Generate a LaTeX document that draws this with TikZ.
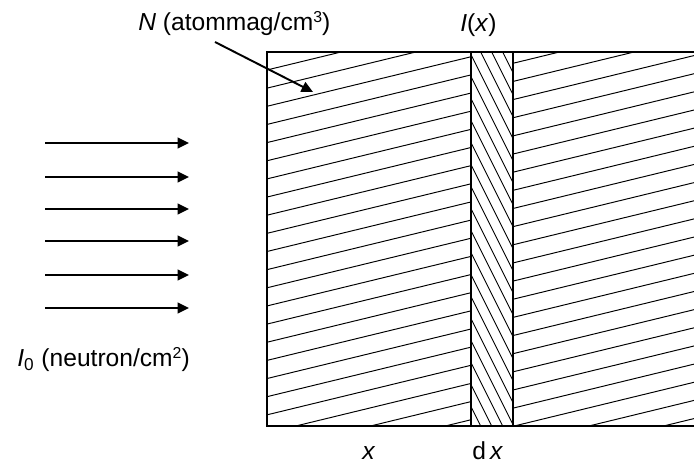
\documentclass[tikz,border=0pt]{standalone}
\usepackage{fontspec}
\setmainfont{Liberation Sans}
\usepackage{tikz}
\usetikzlibrary{arrows.meta, positioning, calc}
\tikzstyle{arrow} = [line width=1.5pt, -{Triangle[length=6.5pt,width=6pt]}]
\newcommand{\upidx}[1]{\raisebox{0.33em}{\fontsize{9}{9}\selectfont #1}}

\begin{document}
\begin{tikzpicture}[
  x=0.02cm, y=-0.02cm,
  txt/.style={inner sep=0pt, font=\fontsize{14}{17}\selectfont},
  border/.style={line width=1.3pt},
  hatch/.style={line width=0.55pt},
  pointer/.style={line width=1.1pt, -{Triangle[length=6.5pt,width=6pt]}}
]
\useasboundingbox (0,0) rectangle (694,465);

% Hatching of the target, left part
\begin{scope}
  \clip (267,52) rectangle (471,426);
  \foreach \k in {-1,...,23}
    \draw[hatch] (267,70+18.15*\k) -- ++(210,-51);
\end{scope}

% Thin slice dx
\begin{scope}
  \clip (471,52) rectangle (513,426);
  \foreach \k in {-4,...,18}
    \draw[hatch] (471,32.6+22*\k) -- ++(42,84);
\end{scope}

% Right part
\begin{scope}
  \clip (513,52) rectangle (694,426);
  \foreach \k in {-1,...,23}
    \draw[hatch] (513,63.3+18.15*\k) -- ++(190,-46.2);
\end{scope}

% Outline
\draw[border] (694,52) -- (267,52) -- (267,426) -- (694,426);
\draw[border] (471,52) -- (471,426);
\draw[border] (513,52) -- (513,426);

% Labels
\node[txt, anchor=base west] (dens) at (138,31) {\textit{N} (atommag/cm\upidx{3})};
\node[txt, anchor=base west] (intens) at (460,32) {\textit{I}(\textit{x})};
\node[txt, anchor=base west] (flux) at (17,367) {\textit{I}\textsubscript{0} (neutron/cm\upidx{2})};
\node[txt, anchor=base] (xlab) at (369,460) {\textit{x}};
\node[txt, anchor=base west] (dxlab) at (472,460) {d\,\textit{x}};

% Pointer to the target
\coordinate (ptail) at (215,42);
\coordinate (phead) at (313,92);
\draw[pointer] (ptail) -- (phead);

% Incoming neutrons
\foreach \y [count=\i] in {143,177,209,241,275,308} {
  \coordinate (s\i) at (45,\y);
  \coordinate (e\i) at (189,\y);
  \draw[arrow] (s\i) -- (e\i);
}

\end{tikzpicture}
\end{document}
